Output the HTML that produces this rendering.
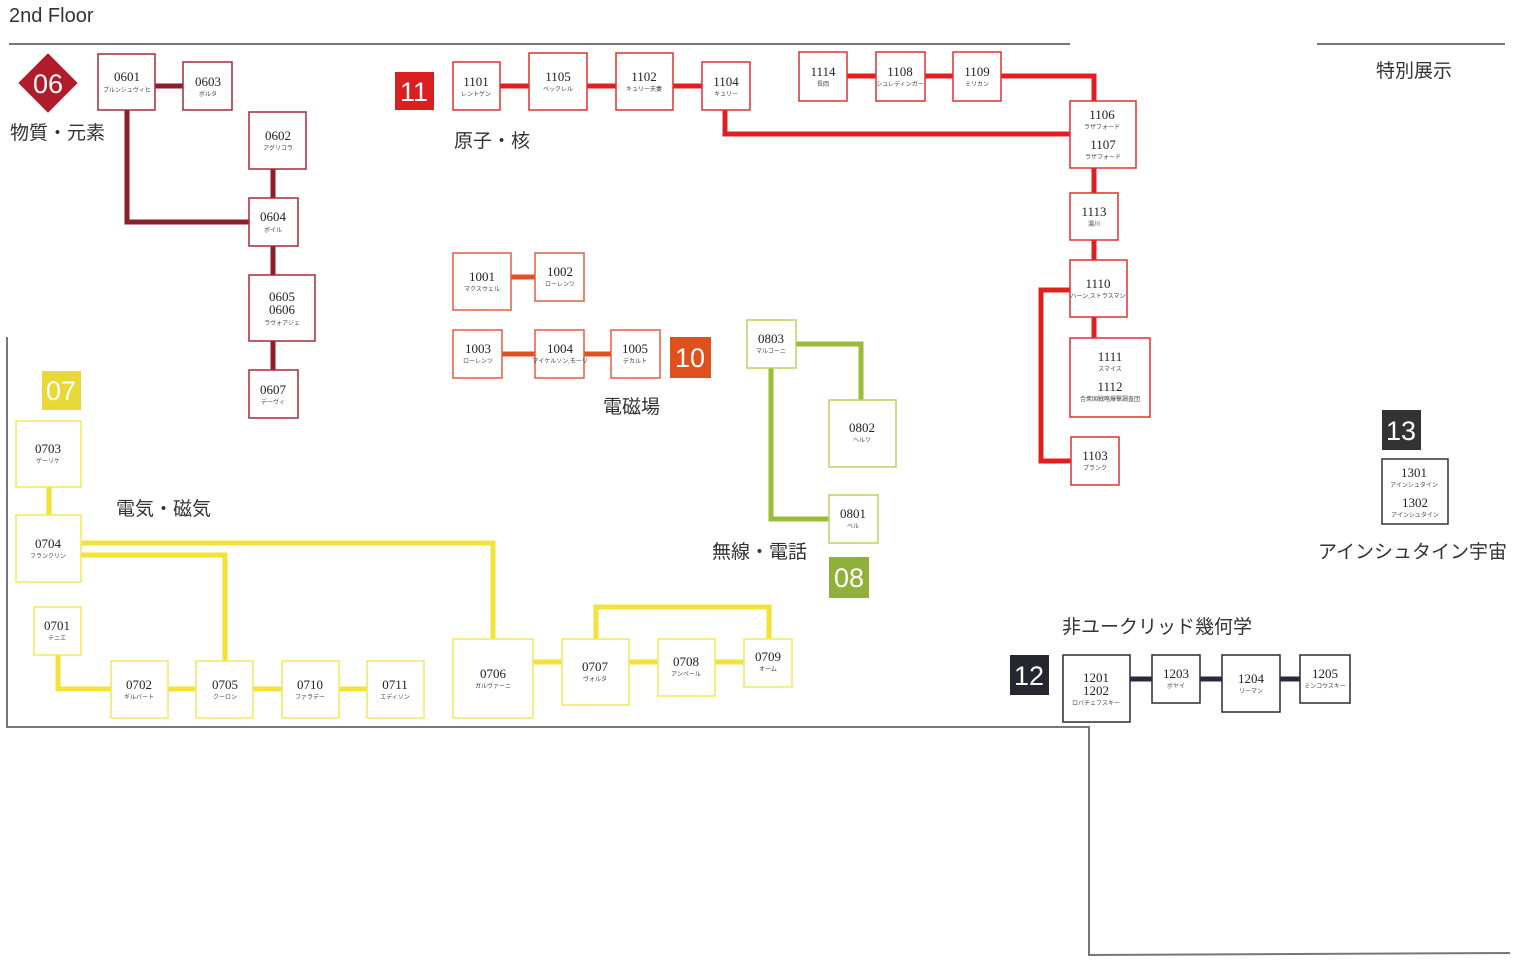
<!DOCTYPE html>
<html><head><meta charset="utf-8"><style>
html,body{margin:0;padding:0;background:#fff;}
svg{display:block;}
.n{font-family:"Liberation Serif","Noto Serif CJK SC",serif;font-size:13px;fill:#222;text-anchor:middle;}
.s{font-family:"Liberation Serif","Noto Sans CJK JP",serif;font-size:6px;fill:#444;text-anchor:middle;}
.l{font-family:"Liberation Sans","Noto Sans CJK JP",sans-serif;font-size:19px;fill:#333;}
.b{font-family:"Liberation Sans",sans-serif;font-size:27px;fill:#fff;text-anchor:middle;}
</style></head><body>
<svg width="1518" height="961" viewBox="0 0 1518 961" xmlns="http://www.w3.org/2000/svg">
<text x="9" y="22" font-family="Liberation Sans,sans-serif" font-size="20" fill="#333">2nd Floor</text>
<g stroke="#777" stroke-width="2" fill="none">
<line x1="9" y1="44" x2="1070" y2="44"/>
<line x1="1317" y1="44" x2="1505" y2="44"/>
<polyline points="7,337 7,727 1089,727 1089,955 1510,953"/>
</g>

<!-- 06 -->
<g stroke="#8b1e2a" stroke-width="5" fill="none">
<line x1="155" y1="86" x2="183" y2="86"/>
<polyline points="127,110 127,222 249,222"/>
<line x1="273" y1="169" x2="273" y2="198"/>
<line x1="273" y1="246" x2="273" y2="275"/>
<line x1="273" y1="341" x2="273" y2="370"/>
</g>
<g stroke="#a8283a" stroke-width="1.5" fill="#fff">
<rect x="98" y="54" width="57" height="56"/>
<rect x="183" y="62" width="49" height="48"/>
<rect x="249" y="112" width="57" height="57"/>
<rect x="249" y="198" width="49" height="48"/>
<rect x="249" y="275" width="66" height="66"/>
<rect x="249" y="370" width="49" height="48"/>
</g>
<rect x="27" y="62" width="42" height="42" fill="#b01c2c" transform="rotate(45 48 83)"/>
<text x="48" y="93" class="b">06</text>
<text x="10" y="139" class="l">物質・元素</text>
<text x="127" y="81" class="n">0601</text><text x="127" y="92" class="s">ブルンシュヴィヒ</text>
<text x="208" y="86" class="n">0603</text><text x="208" y="96" class="s">ボルタ</text>
<text x="278" y="140" class="n">0602</text><text x="278" y="150" class="s">アグリコラ</text>
<text x="273" y="221" class="n">0604</text><text x="273" y="232" class="s">ボイル</text>
<text x="282" y="301" class="n">0605</text><text x="282" y="314" class="n">0606</text><text x="282" y="325" class="s">ラヴォアジェ</text>
<text x="273" y="394" class="n">0607</text><text x="273" y="404" class="s">デーヴィ</text>

<!-- 11 -->
<g stroke="#e02020" stroke-width="5" fill="none">
<line x1="500" y1="86" x2="702" y2="86"/>
<polyline points="725,110 725,134 1070,134"/>
<line x1="847" y1="76" x2="953" y2="76"/>
<polyline points="1001,76 1094,76 1094,101"/>
<line x1="1094" y1="168" x2="1094" y2="260"/>
<line x1="1094" y1="317" x2="1094" y2="338"/>
<polyline points="1070,290 1041,290 1041,461 1071,461"/>
</g>
<g stroke="#e03030" stroke-width="1.5" fill="#fff">
<rect x="453" y="62" width="47" height="48"/>
<rect x="529" y="53" width="58" height="57"/>
<rect x="616" y="53" width="57" height="57"/>
<rect x="702" y="62" width="48" height="48"/>
<rect x="799" y="52" width="48" height="49"/>
<rect x="876" y="52" width="49" height="49"/>
<rect x="953" y="52" width="48" height="49"/>
<rect x="1070" y="101" width="66" height="67"/>
<rect x="1070" y="193" width="48" height="47"/>
<rect x="1070" y="260" width="57" height="57"/>
<rect x="1070" y="338" width="80" height="79"/>
<rect x="1071" y="437" width="48" height="48"/>
</g>
<rect x="395" y="72" width="39" height="38" fill="#d82020"/>
<text x="414" y="101" class="b">11</text>
<text x="454" y="147" class="l">原子・核</text>
<text x="476" y="86" class="n">1101</text><text x="476" y="96" class="s">レントゲン</text>
<text x="558" y="81" class="n">1105</text><text x="558" y="91" class="s">ベックレル</text>
<text x="644" y="81" class="n">1102</text><text x="644" y="91" class="s">キュリー夫妻</text>
<text x="726" y="86" class="n">1104</text><text x="726" y="96" class="s">キュリー</text>
<text x="823" y="76" class="n">1114</text><text x="823" y="86" class="s">長岡</text>
<text x="900" y="76" class="n">1108</text><text x="900" y="86" class="s">シュレディンガー</text>
<text x="977" y="76" class="n">1109</text><text x="977" y="86" class="s">ミリカン</text>
<text x="1102" y="119" class="n">1106</text><text x="1102" y="129" class="s">ラザフォード</text>
<text x="1103" y="149" class="n">1107</text><text x="1103" y="159" class="s">ラザフォード</text>
<text x="1094" y="216" class="n">1113</text><text x="1094" y="226" class="s">湯川</text>
<text x="1098" y="288" class="n">1110</text><text x="1098" y="298" class="s">ハーン,ストラスマン</text>
<text x="1110" y="361" class="n">1111</text><text x="1110" y="371" class="s">スマイス</text>
<text x="1110" y="391" class="n">1112</text><text x="1110" y="401" class="s">合衆国戦略爆撃調査団</text>
<text x="1095" y="460" class="n">1103</text><text x="1095" y="470" class="s">プランク</text>

<!-- 10 -->
<g stroke="#e05020" stroke-width="5" fill="none">
<line x1="511" y1="277" x2="535" y2="277"/>
<line x1="502" y1="354" x2="611" y2="354"/>
</g>
<g stroke="#e85a40" stroke-width="1.5" fill="#fff">
<rect x="453" y="253" width="58" height="57"/>
<rect x="535" y="253" width="49" height="48"/>
<rect x="453" y="330" width="49" height="48"/>
<rect x="535" y="330" width="49" height="48"/>
<rect x="611" y="330" width="49" height="48"/>
</g>
<rect x="670" y="337" width="41" height="41" fill="#e0501e"/>
<text x="690" y="367" class="b">10</text>
<text x="603" y="413" class="l">電磁場</text>
<text x="482" y="281" class="n">1001</text><text x="482" y="291" class="s">マクスウェル</text>
<text x="560" y="276" class="n">1002</text><text x="560" y="286" class="s">ローレンツ</text>
<text x="478" y="353" class="n">1003</text><text x="478" y="363" class="s">ローレンツ</text>
<text x="560" y="353" class="n">1004</text><text x="560" y="363" class="s">マイケルソン,モーリ</text>
<text x="635" y="353" class="n">1005</text><text x="635" y="363" class="s">デカルト</text>

<!-- 08 -->
<g stroke="#9bbb3a" stroke-width="5" fill="none">
<polyline points="796,344 861,344 861,400"/>
<polyline points="771,368 771,519 829,519"/>
</g>
<g stroke="#b8d460" stroke-width="1.5" fill="#fff">
<rect x="747" y="320" width="49" height="48"/>
<rect x="829" y="400" width="67" height="67"/>
<rect x="829" y="495" width="49" height="48"/>
</g>
<rect x="829" y="557" width="40" height="41" fill="#8fb03a"/>
<text x="849" y="587" class="b">08</text>
<text x="712" y="558" class="l">無線・電話</text>
<text x="771" y="343" class="n">0803</text><text x="771" y="353" class="s">マルコーニ</text>
<text x="862" y="432" class="n">0802</text><text x="862" y="442" class="s">ヘルツ</text>
<text x="853" y="518" class="n">0801</text><text x="853" y="528" class="s">ベル</text>

<!-- 07 -->
<g stroke="#f2e23a" stroke-width="5" fill="none">
<line x1="49" y1="487" x2="49" y2="515"/>
<polyline points="81,543 493,543 493,639"/>
<polyline points="81,555 225,555 225,661"/>
<polyline points="58,655 58,689 111,689"/>
<line x1="168" y1="689" x2="367" y2="689"/>
<line x1="533" y1="662" x2="744" y2="662"/>
<polyline points="596,639 596,607 769,607 769,639"/>
</g>
<g stroke="#f2e860" stroke-width="1.5" fill="#fff">
<rect x="16" y="421" width="65" height="66"/>
<rect x="16" y="515" width="65" height="67"/>
<rect x="34" y="607" width="47" height="48"/>
<rect x="111" y="661" width="57" height="57"/>
<rect x="196" y="661" width="57" height="57"/>
<rect x="282" y="661" width="57" height="57"/>
<rect x="367" y="661" width="57" height="57"/>
<rect x="453" y="639" width="80" height="79"/>
<rect x="562" y="639" width="67" height="66"/>
<rect x="658" y="639" width="57" height="57"/>
<rect x="744" y="639" width="48" height="48"/>
</g>
<rect x="42" y="371" width="39" height="39" fill="#e8d838"/>
<text x="61" y="400" class="b">07</text>
<text x="116" y="515" class="l">電気・磁気</text>
<text x="48" y="453" class="n">0703</text><text x="48" y="463" class="s">ゲーリケ</text>
<text x="48" y="548" class="n">0704</text><text x="48" y="558" class="s">フランクリン</text>
<text x="57" y="630" class="n">0701</text><text x="57" y="640" class="s">テニエ</text>
<text x="139" y="689" class="n">0702</text><text x="139" y="699" class="s">ギルバート</text>
<text x="225" y="689" class="n">0705</text><text x="225" y="699" class="s">クーロン</text>
<text x="310" y="689" class="n">0710</text><text x="310" y="699" class="s">ファラデー</text>
<text x="395" y="689" class="n">0711</text><text x="395" y="699" class="s">エディソン</text>
<text x="493" y="678" class="n">0706</text><text x="493" y="688" class="s">ガルヴァーニ</text>
<text x="595" y="671" class="n">0707</text><text x="595" y="681" class="s">ヴォルタ</text>
<text x="686" y="666" class="n">0708</text><text x="686" y="676" class="s">アンペール</text>
<text x="768" y="661" class="n">0709</text><text x="768" y="671" class="s">オーム</text>

<!-- 12 -->
<line x1="1130" y1="679" x2="1300" y2="679" stroke="#2a2a3a" stroke-width="5"/>
<g stroke="#2a2a3a" stroke-width="1.5" fill="#fff">
<rect x="1063" y="655" width="67" height="67"/>
<rect x="1152" y="655" width="48" height="48"/>
<rect x="1222" y="655" width="58" height="57"/>
<rect x="1300" y="655" width="50" height="48"/>
</g>
<rect x="1010" y="655" width="39" height="40" fill="#26262e"/>
<text x="1029" y="685" class="b">12</text>
<text x="1062" y="633" class="l">非ユークリッド幾何学</text>
<text x="1096" y="682" class="n">1201</text><text x="1096" y="695" class="n">1202</text><text x="1096" y="705" class="s">ロバチェフスキー</text>
<text x="1176" y="678" class="n">1203</text><text x="1176" y="688" class="s">ボヤイ</text>
<text x="1251" y="683" class="n">1204</text><text x="1251" y="693" class="s">リーマン</text>
<text x="1325" y="678" class="n">1205</text><text x="1325" y="688" class="s">ミンコウスキー</text>

<!-- 13 -->
<text x="1376" y="77" class="l">特別展示</text>
<rect x="1382" y="410" width="39" height="40" fill="#333"/>
<text x="1401" y="440" class="b">13</text>
<rect x="1382" y="459" width="66" height="65" fill="#fff" stroke="#333" stroke-width="1.5"/>
<text x="1414" y="477" class="n">1301</text><text x="1414" y="487" class="s">アインシュタイン</text>
<text x="1415" y="507" class="n">1302</text><text x="1415" y="517" class="s">アインシュタイン</text>
<text x="1318" y="558" class="l">アインシュタイン宇宙</text>
</svg>
</body></html>
